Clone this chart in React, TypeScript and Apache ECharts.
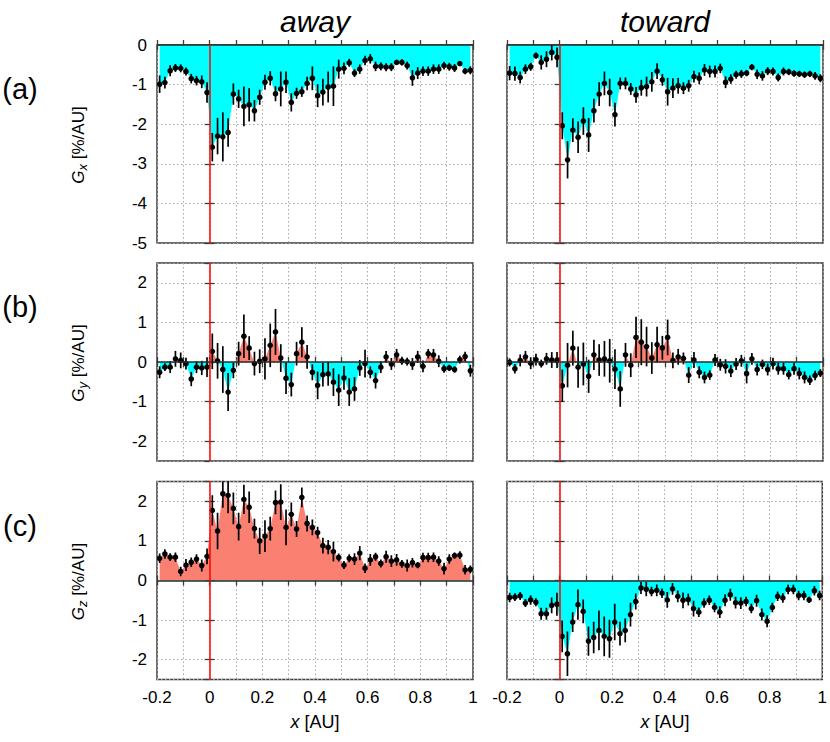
import React, { useEffect, useRef } from 'react';
import * as echarts from 'echarts';

const FONT = '"Liberation Sans", Arial, Helvetica, sans-serif';

// x positions of the bins (AU)
const xs = [-0.19, -0.17, -0.15, -0.13, -0.11, -0.09, -0.07, -0.05, -0.03, -0.01,
  0.01, 0.03, 0.05, 0.07, 0.09, 0.11, 0.13, 0.15, 0.17, 0.19,
  0.21, 0.23, 0.25, 0.27, 0.29, 0.31, 0.33, 0.35, 0.37, 0.39,
  0.41, 0.43, 0.45, 0.47, 0.49, 0.51, 0.53, 0.55, 0.57, 0.59,
  0.61, 0.63, 0.65, 0.67, 0.69, 0.71, 0.73, 0.75, 0.77, 0.79,
  0.81, 0.83, 0.85, 0.87, 0.89, 0.91, 0.93, 0.95, 0.97, 0.99];

const gxAway = [-0.99, -0.95, -0.65, -0.58, -0.59, -0.67, -0.85, -0.90, -0.93, -1.20,
  -2.58, -2.30, -2.32, -2.21, -1.24, -1.36, -1.55, -1.51, -1.66, -1.32,
  -0.94, -0.84, -1.23, -1.11, -0.94, -1.45, -1.22, -1.18, -0.97, -0.84,
  -1.28, -1.19, -1.06, -1.04, -0.61, -0.59, -0.45, -0.71, -0.61, -0.39,
  -0.35, -0.54, -0.54, -0.56, -0.56, -0.44, -0.44, -0.52, -0.83, -0.71,
  -0.66, -0.66, -0.61, -0.61, -0.52, -0.55, -0.58, -0.47, -0.66, -0.64];
const gxAwayErr = [0.22, 0.15, 0.14, 0.1, 0.1, 0.1, 0.12, 0.12, 0.16, 0.26,
  0.36, 0.46, 0.62, 0.36, 0.27, 0.23, 0.5, 0.42, 0.27, 0.19,
  0.19, 0.18, 0.19, 0.44, 0.27, 0.23, 0.14, 0.13, 0.17, 0.3,
  0.29, 0.34, 0.39, 0.5, 0.24, 0.15, 0.1, 0.1, 0.12, 0.12,
  0.12, 0.12, 0.1, 0.1, 0.1, 0.06, 0.08, 0.1, 0.2, 0.15,
  0.12, 0.12, 0.12, 0.12, 0.1, 0.1, 0.1, 0.06, 0.08, 0.1];

const gxToward = [-0.71, -0.72, -0.82, -0.61, -0.55, -0.27, -0.44, -0.36, -0.19, -0.31,
  -2.04, -2.90, -2.15, -2.33, -1.92, -2.27, -1.66, -1.24, -0.97, -1.20,
  -1.76, -0.97, -0.97, -1.11, -1.26, -1.08, -1.05, -0.93, -0.66, -0.88,
  -1.18, -1.09, -1.03, -1.09, -1.03, -0.80, -0.84, -0.63, -0.67, -0.67,
  -0.59, -0.94, -0.86, -0.75, -0.73, -0.71, -0.56, -0.74, -0.78, -0.66,
  -0.67, -0.82, -0.67, -0.68, -0.72, -0.73, -0.75, -0.73, -0.78, -0.84];
const gxTowardErr = [0.18, 0.18, 0.15, 0.12, 0.1, 0.08, 0.18, 0.2, 0.2, 0.25,
  0.34, 0.47, 0.3, 0.4, 0.35, 0.43, 0.3, 0.3, 0.3, 0.35,
  0.3, 0.15, 0.15, 0.15, 0.2, 0.2, 0.25, 0.25, 0.2, 0.15,
  0.35, 0.25, 0.2, 0.15, 0.15, 0.15, 0.15, 0.15, 0.15, 0.15,
  0.12, 0.15, 0.12, 0.1, 0.1, 0.08, 0.08, 0.12, 0.12, 0.1,
  0.1, 0.1, 0.1, 0.08, 0.08, 0.08, 0.08, 0.08, 0.1, 0.1];

const gyAway = [-0.26, -0.13, -0.13, 0.08, 0.04, -0.04, -0.43, -0.13, -0.15, -0.13,
  0.27, 0.03, -0.19, -0.76, -0.21, 0.21, 0.65, 0.35, -0.04, 0.02,
  0.08, 0.42, 0.76, 0.10, -0.41, -0.57, 0.21, 0.50, 0.13, -0.26,
  -0.59, -0.32, -0.30, -0.51, -0.71, -0.40, -0.76, -0.68, -0.15, -0.04,
  -0.26, -0.47, -0.13, 0.13, -0.05, 0.18, 0.03, 0.01, -0.05, 0.13,
  -0.11, 0.21, 0.18, 0.02, -0.17, -0.15, -0.19, 0.06, 0.14, -0.22];
const gyAwayErr = [0.15, 0.1, 0.15, 0.2, 0.2, 0.15, 0.18, 0.15, 0.18, 0.25,
  0.45, 0.45, 0.59, 0.48, 0.2, 0.3, 0.55, 0.3, 0.3, 0.3,
  0.52, 0.55, 0.58, 0.35, 0.4, 0.3, 0.3, 0.38, 0.3, 0.2,
  0.35, 0.3, 0.3, 0.35, 0.4, 0.3, 0.35, 0.3, 0.2, 0.35,
  0.15, 0.2, 0.15, 0.15, 0.15, 0.15, 0.1, 0.1, 0.15, 0.15,
  0.15, 0.12, 0.15, 0.15, 0.1, 0.08, 0.08, 0.1, 0.12, 0.15];

const gyToward = [-0.01, -0.17, 0.04, 0.13, -0.03, 0.06, -0.04, 0.08, 0.05, 0.05,
  -0.60, -0.08, 0.35, -0.13, -0.05, -0.36, 0.18, 0.05, 0.08, 0.03,
  -0.18, -0.68, 0.18, -0.08, 0.62, 0.50, 0.39, 0.10, 0.44, 0.36,
  0.62, 0.04, 0.13, 0.09, -0.33, 0.05, -0.26, -0.39, -0.33, 0.05,
  -0.07, -0.11, -0.23, -0.05, 0.03, -0.29, 0.08, -0.19, -0.06, -0.19,
  -0.04, -0.17, -0.17, -0.32, -0.17, -0.29, -0.39, -0.46, -0.34, -0.28];
const gyTowardErr = [0.1, 0.12, 0.15, 0.15, 0.15, 0.15, 0.1, 0.15, 0.2, 0.2,
  0.41, 0.56, 0.44, 0.52, 0.54, 0.42, 0.38, 0.4, 0.45, 0.55,
  0.5, 0.45, 0.3, 0.3, 0.52, 0.58, 0.5, 0.4, 0.45, 0.3,
  0.45, 0.2, 0.2, 0.15, 0.2, 0.2, 0.15, 0.15, 0.12, 0.15,
  0.15, 0.18, 0.15, 0.15, 0.15, 0.25, 0.15, 0.15, 0.12, 0.15,
  0.15, 0.15, 0.15, 0.12, 0.15, 0.15, 0.15, 0.12, 0.12, 0.1];

const gzAway = [0.56, 0.67, 0.59, 0.59, 0.23, 0.39, 0.46, 0.54, 0.38, 0.61,
  1.77, 1.25, 2.19, 2.15, 1.82, 1.36, 2.05, 1.85, 1.31, 1.00,
  1.12, 1.31, 1.97, 1.98, 1.34, 1.67, 1.30, 2.10, 1.44, 1.34,
  1.21, 0.88, 0.84, 0.73, 0.58, 0.39, 0.56, 0.54, 0.69, 0.31,
  0.52, 0.60, 0.43, 0.60, 0.49, 0.52, 0.42, 0.38, 0.45, 0.39,
  0.58, 0.58, 0.59, 0.49, 0.30, 0.54, 0.63, 0.64, 0.27, 0.28];
const gzAwayErr = [0.12, 0.12, 0.1, 0.12, 0.12, 0.15, 0.12, 0.12, 0.15, 0.2,
  0.38, 0.46, 0.35, 0.45, 0.4, 0.35, 0.37, 0.4, 0.25, 0.33,
  0.4, 0.3, 0.3, 0.45, 0.45, 0.3, 0.2, 0.25, 0.2, 0.2,
  0.15, 0.2, 0.18, 0.25, 0.1, 0.1, 0.1, 0.15, 0.18, 0.12,
  0.15, 0.1, 0.1, 0.15, 0.15, 0.15, 0.1, 0.15, 0.12, 0.08,
  0.12, 0.12, 0.12, 0.12, 0.15, 0.12, 0.08, 0.1, 0.12, 0.1];

const gzToward = [-0.43, -0.42, -0.39, -0.57, -0.49, -0.55, -0.84, -0.84, -0.63, -0.60,
  -1.41, -1.85, -1.05, -0.61, -0.78, -1.53, -1.44, -1.26, -1.41, -1.47,
  -1.05, -1.34, -1.26, -0.86, -0.53, -0.19, -0.22, -0.28, -0.25, -0.32,
  -0.49, -0.21, -0.40, -0.50, -0.48, -0.71, -0.80, -0.57, -0.50, -0.68,
  -0.80, -0.50, -0.36, -0.56, -0.57, -0.53, -0.71, -0.51, -0.86, -1.03,
  -0.68, -0.40, -0.44, -0.23, -0.23, -0.38, -0.38, -0.49, -0.26, -0.38];
const gzTowardErr = [0.12, 0.1, 0.1, 0.1, 0.12, 0.1, 0.15, 0.15, 0.2, 0.29,
  0.4, 0.56, 0.25, 0.38, 0.3, 0.37, 0.4, 0.5, 0.5, 0.48,
  0.46, 0.3, 0.3, 0.3, 0.2, 0.15, 0.18, 0.12, 0.15, 0.12,
  0.2, 0.15, 0.15, 0.2, 0.15, 0.2, 0.12, 0.12, 0.12, 0.12,
  0.15, 0.15, 0.15, 0.15, 0.15, 0.12, 0.12, 0.15, 0.15, 0.15,
  0.12, 0.12, 0.12, 0.12, 0.12, 0.12, 0.12, 0.08, 0.12, 0.12];

// axes / labels
const xRange = [-0.2, 1];
const xStep = 0.1;
const yRanges = [[-5, 0], [-2.5, 2.5], [-2.5, 2.5]];
const columnTitles = ['away', 'toward'];
const rowLabels = ['(a)', '(b)', '(c)'];
const rowSubscripts = ['x', 'y', 'z'];

const panelValues = [
  [gxAway, gxToward],
  [gyAway, gyToward],
  [gzAway, gzToward],
];
const panelErrors = [
  [gxAwayErr, gxTowardErr],
  [gyAwayErr, gyTowardErr],
  [gzAwayErr, gzTowardErr],
];

// layout
const COL_LEFT = [157, 507];
const ROW_TOP = [45, 263, 481.5];
const PW = 316;
const PH = 198;
const FRAME = '#3c3c3c';
const NEG_COLOR = '#00ffff';
const POS_COLOR = '#fa8072';

const xLabelFmt = (v: number) => {
  const k = Math.round(v * 10);
  if (k % 2 !== 0) return '';
  return String(k / 10);
};

export default function App() {
  const ref = useRef<HTMLDivElement>(null);

  useEffect(() => {
    if (!ref.current) return;
    const chart = echarts.init(ref.current, null, { renderer: 'svg' });

    const grid: any[] = [];
    const xAxis: any[] = [];
    const yAxis: any[] = [];
    const series: any[] = [];
    const areaIdx: number[] = [];
    const graphic: any[] = [];

    let gi = 0;
    for (let r = 0; r < 3; r++) {
      for (let c = 0; c < 2; c++) {
        grid.push({
          left: COL_LEFT[c], top: ROW_TOP[r], width: PW, height: PH,
          show: true, borderColor: FRAME, borderWidth: 1.5, backgroundColor: 'transparent',
        });
        const tickStyle = { show: true, inside: true, length: 5, lineStyle: { color: FRAME, width: 1.3 } };
        const yExtra = r === 0 ? { interval: 1 } : { splitNumber: 5 };
        xAxis.push({
          gridIndex: gi, type: 'value', position: 'bottom', min: xRange[0], max: xRange[1], interval: xStep,
          axisLine: { show: false },
          axisTick: tickStyle,
          axisLabel: {
            show: r === 2, margin: 9, formatter: xLabelFmt,
            fontFamily: FONT, fontSize: 17, color: '#000',
          },
          splitLine: { show: true, lineStyle: { color: '#a8a8a8', width: 1, type: [1.5, 2.5] } },
        });
        xAxis.push({
          gridIndex: gi, type: 'value', position: 'top', min: xRange[0], max: xRange[1], interval: xStep,
          axisLine: { show: false },
          axisTick: tickStyle,
          axisLabel: { show: false },
          splitLine: { show: false },
        });
        yAxis.push({
          gridIndex: gi, type: 'value', position: 'left', min: yRanges[r][0], max: yRanges[r][1], ...yExtra,
          axisLine: { show: false },
          axisTick: tickStyle,
          axisLabel: {
            show: c === 0, margin: 10, showMinLabel: r === 0, showMaxLabel: r === 0,
            fontFamily: FONT, fontSize: 17, color: '#000',
          },
          splitLine: { show: true, lineStyle: { color: '#a8a8a8', width: 1, type: [1.5, 2.5] } },
        });
        yAxis.push({
          gridIndex: gi, type: 'value', position: 'right', min: yRanges[r][0], max: yRanges[r][1], ...yExtra,
          axisLine: { show: false },
          axisTick: tickStyle,
          axisLabel: { show: false },
          splitLine: { show: false },
        });

        const vals = panelValues[r][c];
        const errs = panelErrors[r][c];
        areaIdx.push(series.length);
        series.push({
          type: 'line',
          xAxisIndex: gi * 2, yAxisIndex: gi * 2,
          data: xs.map((x, j) => [x, vals[j]]),
          symbol: 'none', showSymbol: false, silent: true,
          lineStyle: { width: 0, opacity: 0 },
          areaStyle: { opacity: 1, origin: 0 },
          z: 2,
          markLine: {
            silent: true, symbol: ['none', 'none'], label: { show: false },
            data: [
              { yAxis: 0, lineStyle: { color: '#2a2a2a', width: 1.6, type: 'solid', opacity: 1 } },
              { xAxis: 0, lineStyle: { color: '#ff0000', width: 1.5, type: 'solid', opacity: 1 } },
            ],
          },
        });
        series.push({
          type: 'custom',
          coordinateSystem: 'cartesian2d',
          xAxisIndex: gi * 2, yAxisIndex: gi * 2,
          clip: true, silent: true, z: 4,
          encode: { x: 0, y: 1 },
          data: xs.map((x, j) => [x, vals[j], errs[j]]),
          renderItem: (params: any, api: any) => {
            const x = api.value(0);
            const y = api.value(1);
            const e = api.value(2);
            const top = api.coord([x, y + e]);
            const bot = api.coord([x, y - e]);
            const ctr = api.coord([x, y]);
            return {
              type: 'group',
              children: [
                { type: 'line', shape: { x1: top[0], y1: top[1], x2: bot[0], y2: bot[1] }, style: { stroke: '#000', lineWidth: 1.7 } },
                { type: 'circle', shape: { cx: ctr[0], cy: ctr[1], r: 2.8 }, style: { fill: '#000' } },
              ],
            };
          },
        });
        gi++;
      }
    }

    columnTitles.forEach((t, c) => {
      graphic.push({
        type: 'text', x: COL_LEFT[c] + PW / 2, y: 21,
        style: { text: t, fontFamily: FONT, fontSize: 30, fontStyle: 'italic', fill: '#000', align: 'center', verticalAlign: 'middle' },
      });
      graphic.push({
        type: 'text', x: COL_LEFT[c] + PW / 2, y: 722,
        style: {
          text: '{i|x} [AU]', fontFamily: FONT, fontSize: 18, fill: '#000', align: 'center', verticalAlign: 'middle',
          rich: { i: { fontFamily: FONT, fontSize: 18, fontStyle: 'italic', fill: '#000' } },
        },
      });
    });
    rowLabels.forEach((t, r) => {
      const cy = ROW_TOP[r] + PH / 2;
      graphic.push({
        type: 'text', x: 20, y: ROW_TOP[r] + 44,
        style: { text: t, fontFamily: FONT, fontSize: 29, fill: '#000', align: 'center', verticalAlign: 'middle' },
      });
      graphic.push({
        type: 'text', x: 78, y: cy + 1, rotation: Math.PI / 2,
        style: {
          text: '{g|G}{s|' + rowSubscripts[r] + '} [%/AU]', fontFamily: FONT, fontSize: 17, fill: '#000',
          align: 'center', verticalAlign: 'middle',
          rich: {
            g: { fontFamily: FONT, fontSize: 17, fontStyle: 'italic', fill: '#000' },
            s: { fontFamily: FONT, fontSize: 13, fontStyle: 'italic', fill: '#000', padding: [9, 0, 0, 0] },
          },
        },
      });
    });

    chart.setOption({
      animation: false,
      backgroundColor: '#fff',
      grid, xAxis, yAxis, series, graphic,
      visualMap: {
        type: 'piecewise', show: false, dimension: 1, seriesIndex: areaIdx,
        pieces: [
          { gte: -10, lt: 0, color: NEG_COLOR },
          { gte: 0, lte: 10, color: POS_COLOR },
        ],
        outOfRange: { color: NEG_COLOR },
      },
    });

    return () => chart.dispose();
  }, []);

  return <div ref={ref} style={{ position: 'absolute', left: 0, top: 0, width: 830, height: 742 }} />;
}
